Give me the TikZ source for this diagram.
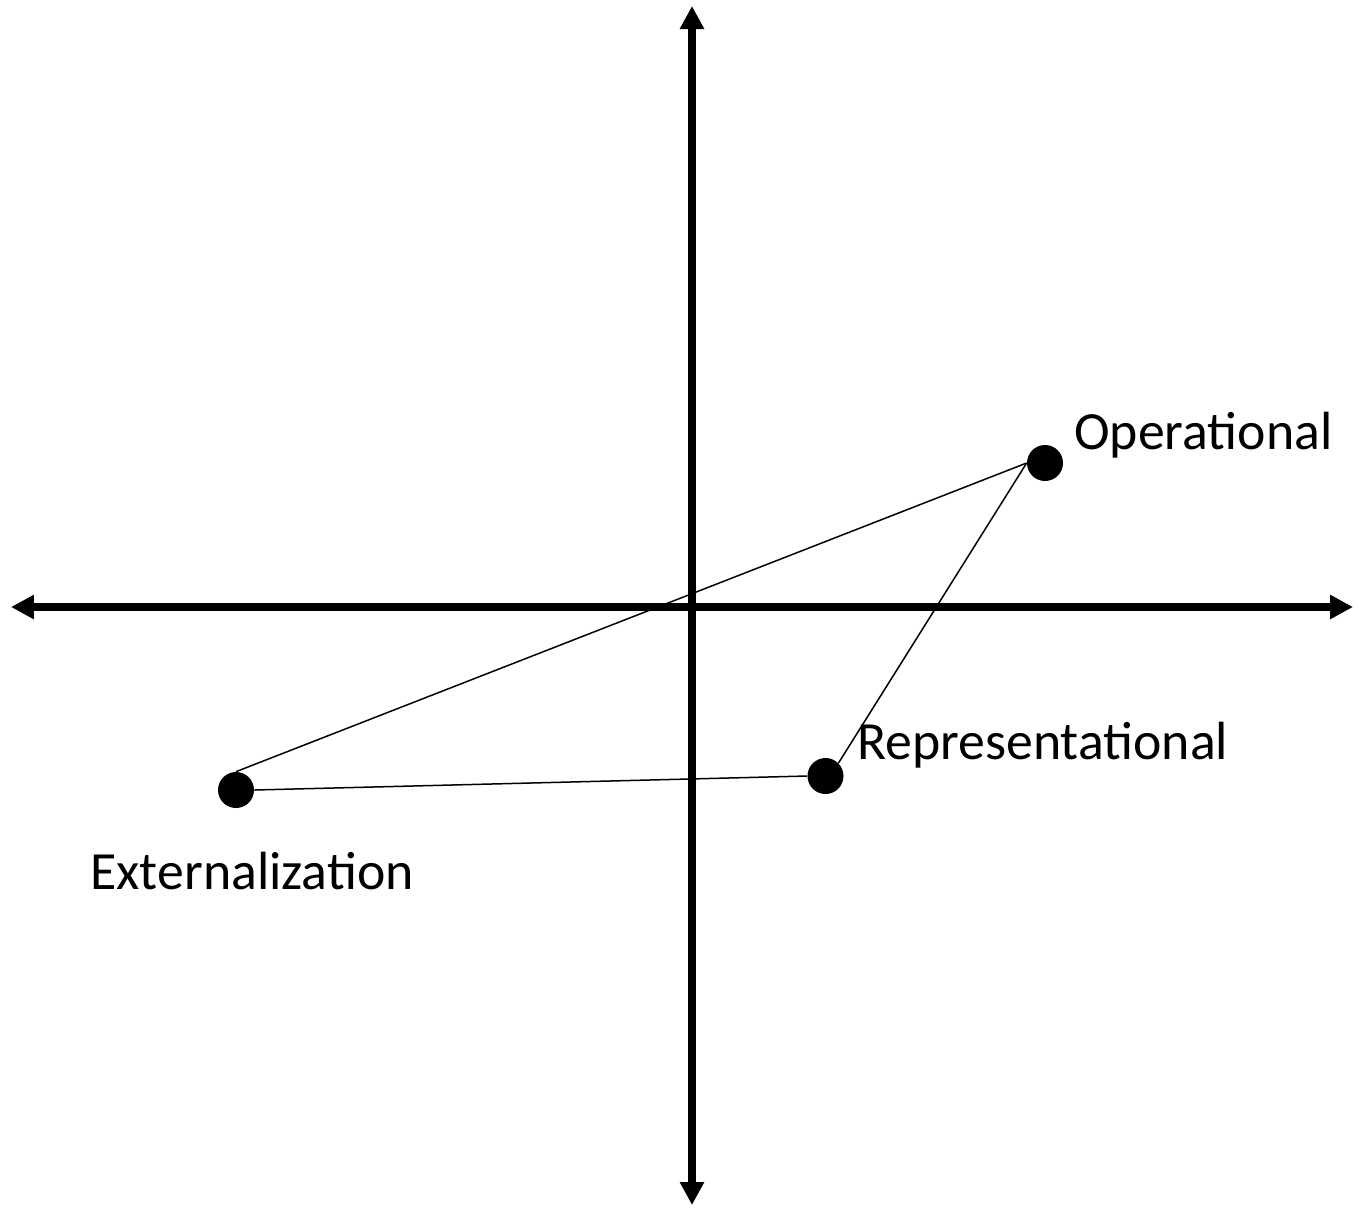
\documentclass[tikz,border=0pt]{standalone}
\usepackage{fontspec}
\setmainfont{Carlito}
\usetikzlibrary{arrows.meta}
\begin{document}
\begin{tikzpicture}[x=0.02cm,y=-0.02cm,
  axis/.style={line width=0.16cm,{Triangle[length=0.46cm,width=0.46cm]}-{Triangle[length=0.46cm,width=0.46cm]}},
  dot/.style={circle,fill=black,inner sep=0pt,minimum size=0.72cm},
  link/.style={line width=0.03cm},
  lbl/.style={anchor=base west,inner sep=0pt,font=\fontsize{30.6}{36}\selectfont}]
\useasboundingbox (0,0) rectangle (1358,1211);
\coordinate (xl) at (11,607);
\coordinate (xr) at (1353,607);
\coordinate (yt) at (692,6);
\coordinate (yb) at (692,1205);
\draw[axis] (xl) -- (xr);
\draw[axis] (yb) -- (yt);
\node[dot] (op) at (1045,463) {};
\node[dot] (rep) at (825.5,776) {};
\node[dot] (ext) at (236,790) {};
\draw[link] (ext.north) -- (op.west);
\draw[link] (op.west) -- (rep.north east);
\draw[link] (ext.east) -- (rep.west);
\node[lbl] (oplbl) at (1074,449) {Operational};
\node[lbl] (replbl) at (857,759) {Representational};
\node[lbl] (extlbl) at (90,889) {Externalization};
\end{tikzpicture}
\end{document}
